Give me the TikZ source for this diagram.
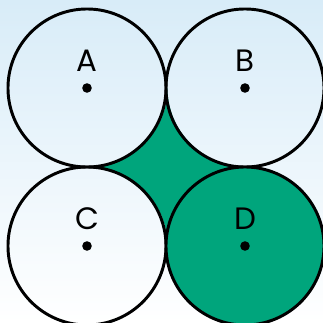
\documentclass[tikz,border=0pt]{standalone}
\usepackage{fontspec}
\setsansfont{Poppins}
\usepackage{xcolor}
\usepackage{tikz}
\usetikzlibrary{
  positioning,
  backgrounds
}
\definecolor{SkyTop}{HTML}{D8ECF8}
\definecolor{SetGreen}{HTML}{00A57C}
\tikzset{
  disc/.style={
    circle,
    draw=black,
    line width=2.1pt,
    minimum size=3.95cm,
    inner sep=0pt
  },
  centerdot/.style={
    circle,
    fill=black,
    minimum size=0.24cm,
    inner sep=0pt
  },
  setlabel/.style={
    font=\sffamily\fontsize{22}{22}\selectfont,
    inner sep=0pt
  }
}

\begin{document}
\begin{tikzpicture}[x=0.025cm, y=-0.025cm]

  \useasboundingbox (0,0) rectangle (323,323);

  \node[disc] (A) at (87,88) {};
  \node[disc] (B) at (245,88) {};
  \node[disc] (C) at (87,246) {};
  \node[disc, fill=SetGreen] (D) at (245,246) {};

  \begin{scope}[on background layer]
    \shade[top color=SkyTop, bottom color=white]
    (0,0) rectangle (323,323);
    % region between the four circles
    \fill[SetGreen]
    (A.east) arc[start angle=180, end angle=90, radius=79]
    arc[start angle=270, end angle=180, radius=79]
    arc[start angle=0, end angle=-90, radius=79]
    arc[start angle=90, end angle=0, radius=79]
    -- cycle;
  \end{scope}

  \node[centerdot] (dotA) at (A.center) {};
  \node[centerdot] (dotB) at (B.center) {};
  \node[centerdot] (dotC) at (C.center) {};
  \node[centerdot] (dotD) at (D.center) {};

  \node[setlabel, above=0.28cm of dotA] (labA) {A};
  \node[setlabel, above=0.28cm of dotB] (labB) {B};
  \node[setlabel, above=0.28cm of dotC] (labC) {C};
  \node[setlabel, above=0.28cm of dotD] (labD) {D};

\end{tikzpicture}
\end{document}
